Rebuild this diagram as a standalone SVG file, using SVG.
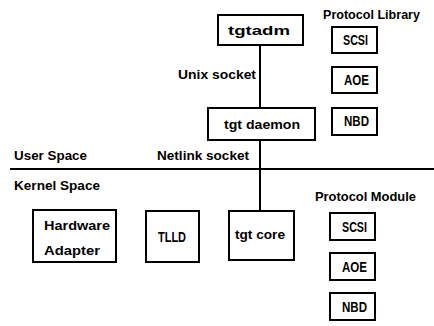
<svg xmlns="http://www.w3.org/2000/svg" width="434" height="326" viewBox="0 0 434 326">
<style>
.box{fill:#fff;stroke:#000;stroke-width:2}
.ln{stroke:#000;stroke-width:2;fill:none}
text{font-family:"Liberation Sans",Arial,sans-serif;font-weight:bold;font-size:13px;fill:#000}
.k{font-size:14px}
</style>
<rect width="434" height="326" fill="#fff"/>
<g id="connectors">
<line class="ln" x1="260" y1="45" x2="260" y2="108"/>
<line class="ln" x1="260" y1="140" x2="260" y2="211"/>
<line class="ln" x1="10" y1="169" x2="434" y2="169"/>
</g>
<g id="labels">
<text x="178" y="79" textLength="78" lengthAdjust="spacingAndGlyphs">Unix socket</text>
<text x="14" y="160" textLength="73" lengthAdjust="spacingAndGlyphs">User Space</text>
<text x="157" y="160" textLength="92" lengthAdjust="spacingAndGlyphs">Netlink socket</text>
<text x="14" y="190" textLength="86" lengthAdjust="spacingAndGlyphs">Kernel Space</text>
<text x="323" y="19" textLength="97" lengthAdjust="spacingAndGlyphs">Protocol Library</text>
<text x="315" y="201" textLength="101" lengthAdjust="spacingAndGlyphs">Protocol Module</text>
</g>
<g id="tgtadm"><rect class="box" x="218" y="15" width="85" height="30"/><text x="228" y="35" textLength="62" lengthAdjust="spacingAndGlyphs">tgtadm</text></g>
<g id="tgtdaemon"><rect class="box" x="208" y="108" width="107" height="32"/><text x="224" y="129" textLength="76" lengthAdjust="spacingAndGlyphs">tgt daemon</text></g>
<g id="lib-scsi"><rect class="box" x="332" y="27" width="45" height="26"/><text class="k" x="343" y="45" textLength="25" lengthAdjust="spacingAndGlyphs">SCSI</text></g>
<g id="lib-aoe"><rect class="box" x="332" y="67" width="45" height="26"/><text class="k" x="344" y="85" textLength="25" lengthAdjust="spacingAndGlyphs">AOE</text></g>
<g id="lib-nbd"><rect class="box" x="332" y="108" width="45" height="27"/><text class="k" x="344" y="126" textLength="25" lengthAdjust="spacingAndGlyphs">NBD</text></g>
<g id="hwadapter"><rect class="box" x="33" y="210" width="83" height="52"/><text x="44" y="230" textLength="66" lengthAdjust="spacingAndGlyphs">Hardware</text><text x="44" y="255" textLength="56" lengthAdjust="spacingAndGlyphs">Adapter</text></g>
<g id="tlld"><rect class="box" x="146" y="211" width="53" height="51"/><text class="k" x="158" y="242" textLength="28" lengthAdjust="spacingAndGlyphs">TLLD</text></g>
<g id="tgtcore"><rect class="box" x="229" y="211" width="65" height="49"/><text x="235" y="239" textLength="50" lengthAdjust="spacingAndGlyphs">tgt core</text></g>
<g id="mod-scsi"><rect class="box" x="330" y="213" width="45" height="27"/><text class="k" x="342" y="232" textLength="25" lengthAdjust="spacingAndGlyphs">SCSI</text></g>
<g id="mod-aoe"><rect class="box" x="330" y="253" width="45" height="27"/><text class="k" x="342" y="272" textLength="25" lengthAdjust="spacingAndGlyphs">AOE</text></g>
<g id="mod-nbd"><rect class="box" x="330" y="293" width="45" height="27"/><text class="k" x="342" y="312" textLength="25" lengthAdjust="spacingAndGlyphs">NBD</text></g>
</svg>
